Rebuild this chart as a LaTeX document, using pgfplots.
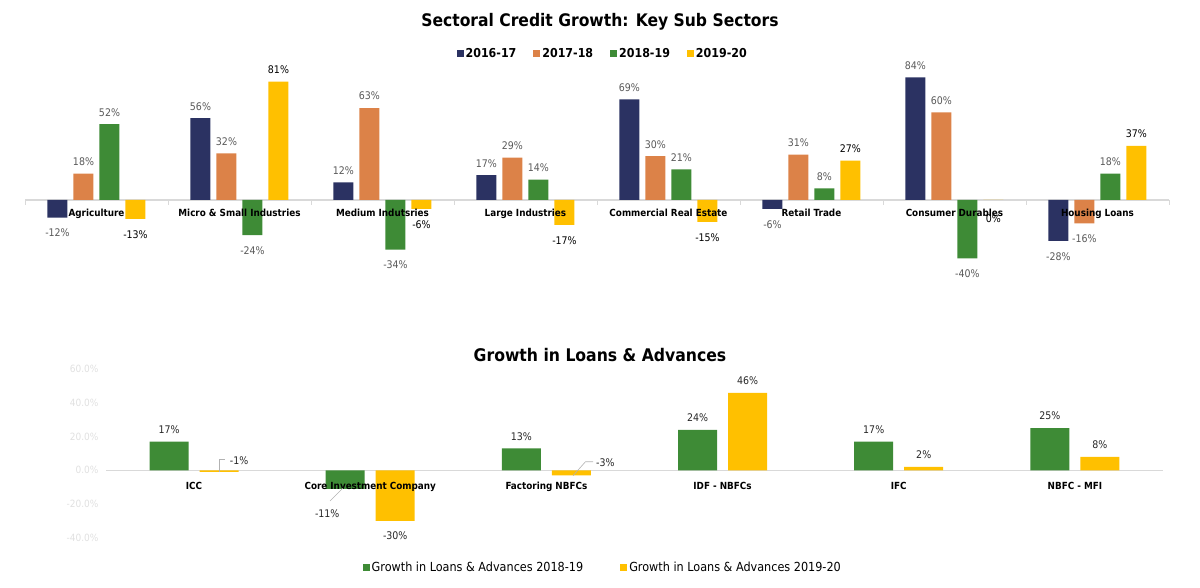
\documentclass[border=0pt]{standalone}
\usepackage{pgfplots}
\usepackage{pgfplotstable}
\pgfplotsset{compat=1.18}
\usepackage{fontspec}
\setmainfont{DejaVu Sans Condensed}
\definecolor{cnavy}{HTML}{2B3262}
\definecolor{corange}{HTML}{DC8248}
\definecolor{cgreen}{HTML}{3E8B36}
\definecolor{cyellow}{HTML}{FFC000}
\definecolor{lblgray}{HTML}{595959}
\definecolor{zline}{HTML}{D9D9D9}
\definecolor{tickgray}{HTML}{E0E0E0}

\pgfplotstableread{
x y
0 -12
1 56
2 12
3 17
4 69
5 -6
6 84
7 -28
}\sA
\pgfplotstableread{
x y
0 18
1 32
2 63
3 29
4 30
5 31
6 60
7 -16
}\sB
\pgfplotstableread{
x y
0 52
1 -24
2 -34
3 14
4 21
5 8
6 -40
7 18
}\sC
\pgfplotstableread{
x y dy
0 -13 0
1 81 0
2 -6 0
3 -17 0
4 -15 0
5 27 0
6 0 -30.7
7 37 0
}\sD

\pgfplotstableread{
x y dx dy
0 17 0 0
1 -11 -18 -9.7
2 13 0 0
3 24 0 0
4 17 0 0
5 25 0 0
}\bA
\pgfplotstableread{
x y dx dy
0 -1 20 26
1 -30 0 0
2 -3 34 28
3 46 0 0
4 2 0 0
5 8 0 0
}\bB

\begin{document}
\begin{tikzpicture}[x=1pt,y=1pt]
\path[use as bounding box] (0,0) rectangle (1200,587);
\node[font=\bfseries\fontsize{17.3}{20}\selectfont] at (600,565.3) {Sectoral Credit Growth: Key Sub Sectors};
\begin{axis}[
  at={(25pt,306.7pt)}, anchor=south west,
  scale only axis, width=1144pt, height=219pt,
  xmin=-0.5, xmax=7.5, ymin=-55, ymax=95,
  axis x line=middle, axis y line=none,
  axis line style={-, draw=none},
  axis on top,
  hide obscured x ticks=false,
  xtick={0,...,7},
  xticklabels={Agriculture, Micro \& Small Industries, Medium Indutsries, Large Industries, Commercial Real Estate, Retail Trade, Consumer Durables, Housing Loans},
  major tick length=0pt,
  xticklabel style={font=\bfseries\fontsize{9.8}{11}\selectfont, text=black, yshift=-6pt},
  ybar=6pt, bar width=20pt,
  /pgf/number format/assume math mode=true,
  nodes near coords={\pgfmathprintnumber[fixed,precision=0]{\pgfplotspointmeta}\%},
  nodes near coords align={vertical},
  every node near coord/.append style={font=\fontsize{10.5}{12}\selectfont, text=lblgray, inner ysep=9.5pt, yshift=-1.8pt},
  legend image code/.code={\fill[#1] (0pt,-3.5pt) rectangle (7pt,3.5pt);},
  legend style={at={(0.505,1.037)}, anchor=center, legend columns=4, draw=none, fill=none,
    font=\bfseries\fontsize{12.3}{14}\selectfont,
    /tikz/every even column/.append style={column sep=15pt}},
  clip=false,
]
\draw[zline, line width=1.2pt] (axis cs:-0.5,0) -- (axis cs:7.5,0);
\pgfplotsinvokeforeach{-0.5,0.5,...,7.5}{\draw[zline, line width=0.8pt] (axis cs:#1,0) -- ++(0pt,-5pt);}
\addplot[fill=cnavy, draw=none] table[x=x,y=y]{\sA};
\addplot[fill=corange, draw=none] table[x=x,y=y]{\sB};
\addplot[fill=cgreen, draw=none] table[x=x,y=y]{\sC};
\addplot[fill=cyellow, draw=none, visualization depends on={\thisrow{dy} \as \dy},
  every node near coord/.append style={text=black, yshift=\dy pt}] table[x=x,y=y]{\sD};
\legend{2016-17,2017-18,2018-19,2019-20}
\end{axis}

\node[font=\bfseries\fontsize{17.4}{20}\selectfont] at (600,232) {Growth in Loans \& Advances};
\begin{axis}[
  at={(106pt,49.4pt)}, anchor=south west,
  scale only axis, width=1057pt, height=168.3pt,
  xmin=-0.5, xmax=5.5, ymin=-40, ymax=60,
  axis x line=middle, axis y line=left,
  axis line style={-, draw=none},
  axis on top,
  hide obscured x ticks=false,
  xtick={0,...,5},
  xticklabels={ICC, Core Investment Company, Factoring NBFCs, IDF - NBFCs, IFC, NBFC - MFI},
  ytick={-40,-20,0,20,40,60},
  yticklabel={\pgfmathprintnumber[fixed,fixed zerofill,precision=1]{\tick}\%},
  yticklabel style={font=\fontsize{10}{12}\selectfont, text=tickgray, xshift=-4pt},
  major tick length=0pt,
  xticklabel style={font=\bfseries\fontsize{9.8}{11}\selectfont, text=black, yshift=-8.5pt},
  ybar=11pt, bar width=39pt,
  /pgf/number format/assume math mode=true,
  nodes near coords={\pgfmathprintnumber[fixed,precision=0]{\pgfplotspointmeta}\%},
  nodes near coords align={vertical},
  every node near coord/.append style={font=\fontsize{10.5}{12}\selectfont, text=black!85, inner ysep=9.5pt, yshift=-1.5pt, xshift=\dx pt, yshift=\dy pt},
  legend image code/.code={\fill[#1] (0pt,-3.5pt) rectangle (7pt,3.5pt);},
  legend style={at={(0.47,-0.179)}, anchor=center, legend columns=2, draw=none, fill=none,
    font=\fontsize{12.5}{14}\selectfont,
    /tikz/every even column/.append style={column sep=35pt}},
  clip=false,
]
\draw[zline, line width=1.2pt] (axis cs:-0.5,0) -- (axis cs:5.5,0);
\addplot[fill=cgreen, draw=none, visualization depends on={\thisrow{dx} \as \dx}, visualization depends on={\thisrow{dy} \as \dy}] table[x=x,y=y]{\bA};
\addplot[fill=cyellow, draw=none, visualization depends on={\thisrow{dx} \as \dx}, visualization depends on={\thisrow{dy} \as \dy}] table[x=x,y=y]{\bB};
\legend{Growth in Loans \& Advances 2018-19, Growth in Loans \& Advances 2019-20}
\end{axis}
\draw[gray!60, line width=0.6pt] (219.3,115.3) -- (219.3,128) -- (224.7,128);
\draw[gray!60, line width=0.6pt] (573,111.3) -- (585.5,125.3) -- (593,125.3);
\draw[gray!60, line width=0.6pt] (330,86) -- (343,99);
\end{tikzpicture}
\end{document}
